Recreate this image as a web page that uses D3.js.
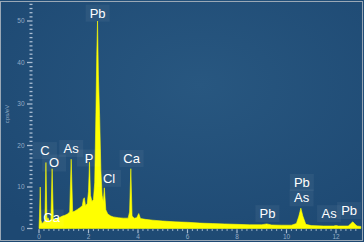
<!DOCTYPE html>
<html>
<head>
<meta charset="utf-8">
<script src="https://cdn.jsdelivr.net/npm/d3@7"></script>
<style>
    body { margin: 0; background: #1f4a75; }
    svg { display: block; }
</style>
</head>
<body>
<svg id="body_spec" width="364" height="242"></svg>
<script>
// spectrum (keV, cps/eV)
let energy = [0.00, 0.02, 0.05, 0.08, 0.12, 0.18, 0.24, 0.28, 0.32, 0.36, 0.42, 0.48, 0.53, 0.58,
    0.65, 0.75, 0.85, 0.95, 1.05, 1.15, 1.24, 1.30, 1.36, 1.45, 1.55, 1.65, 1.75, 1.79, 1.83, 1.88,
    1.95, 2.00, 2.04, 2.08, 2.14, 2.20, 2.25, 2.30, 2.335, 2.365, 2.40, 2.45, 2.50, 2.55, 2.60, 2.64,
    2.70, 2.78, 2.90, 3.00, 3.20, 3.40, 3.60, 3.66, 3.71, 3.76, 3.85, 3.95, 4.03, 4.10, 4.30, 4.60,
    5.00, 5.50, 6.00, 6.50, 7.00, 7.50, 8.00, 8.50, 9.00, 9.20, 9.40, 9.80, 10.20, 10.40, 10.50,
    10.58, 10.66, 10.78, 11.00, 11.50, 11.90, 12.00, 12.10, 12.50, 12.60, 12.68, 12.76, 12.85, 13.00];
let counts = [0, 3, 10, 2, 1.2, 1.5, 2, 15.9, 2, 2.6, 1.8, 2, 14.4, 2,
    2.2, 2.5, 2.7, 3, 3.2, 3.5, 4, 16.7, 4, 4.2, 4.6, 5, 5.5, 7, 7.4, 5.5,
    6, 9, 16, 8, 6.5, 7, 11, 28, 42, 50, 37, 27, 14, 8, 6.5, 9.8,
    4.5, 3.5, 3, 2.8, 2.6, 2.5, 2.5, 4, 14.4, 3, 2.5, 2.6, 3.6, 2.4, 2.2, 2.0,
    1.8, 1.6, 1.5, 1.3, 1.2, 1.1, 1.0, 0.9, 0.9, 1.1, 0.85, 0.8, 0.8, 1.2, 3,
    4.9, 3, 1, 0.7, 0.6, 0.6, 0.7, 0.6, 0.6, 1.2, 1.6, 1.1, 0.6, 0.5];

// element labels
let labelText = ["Pb", "C", "O", "As", "P", "Cl", "Ca", "Ca", "Pb", "Pb", "As", "As", "Pb"];
let labelE = [2.37, 0.24, 0.61, 1.30, 2.02, 2.83, 3.74, 0.51, 9.23, 10.62, 10.61, 11.72, 12.53];
let labelV = [50.8, 17.7, 14.7, 18.2, 15.9, 11.0, 15.8, 1.45, 2.5, 10.0, 6.3, 2.5, 3.25];

let xTicks = [0, 2, 4, 6, 8, 10, 12];
let yTicks = [0, 10, 20, 30, 40, 50];
let yTitle = "cps/eV";

let body_spec = d3.select("#body_spec");

let xScale = d3.scaleLinear().domain([0, 13]).range([39, 360.75]);
let yScale = d3.scaleLinear().domain([0, 54]).range([228.5, 4.4]);

drawFrame();
drawAxes();
drawSpectrum();
drawLabels();

function drawFrame(){
    let defs = body_spec.append("defs");
    let grad = defs.append("radialGradient")
        .attr("id", "bg_grad")
        .attr("cx", "55%").attr("cy", "35%").attr("r", "75%");
    grad.append("stop").attr("offset", "0%").attr("stop-color", "#285780");
    grad.append("stop").attr("offset", "100%").attr("stop-color", "#1d4872");

    body_spec.append("rect")
        .attr("x", 0).attr("y", 0)
        .attr("width", 364).attr("height", 242)
        .attr("fill", "url(#bg_grad)");
    body_spec.append("rect")
        .attr("x", 0.5).attr("y", 1.5)
        .attr("width", 362).attr("height", 239)
        .attr("fill", "none")
        .attr("stroke", "#9aa8b6")
        .attr("stroke-width", 1);
}

function drawAxes(){
    // y axis: dashes every unit, longer ones at the labels
    let yMinor = d3.range(0, 55, 1);
    body_spec.selectAll(".ytick")
        .data(yMinor)
        .enter().append("line")
        .attr("x1", d => yTicks.includes(d) ? 27 : 29.5)
        .attr("x2", 32.5)
        .attr("y1", d => yScale(d))
        .attr("y2", d => yScale(d))
        .attr("stroke", "#aabdd2")
        .attr("stroke-width", 1.3);

    body_spec.selectAll(".ylab")
        .data(yTicks)
        .enter().append("text")
        .attr("x", 24.5)
        .attr("y", d => yScale(d) + 2.2)
        .attr("text-anchor", "end")
        .attr("font-family", "Liberation Sans, Arial, sans-serif")
        .attr("font-size", 6.5)
        .attr("fill", "#93abc5")
        .text(d => d);

    body_spec.append("text")
        .attr("transform", "translate(9," + 114 + ") rotate(-90)")
        .attr("text-anchor", "middle")
        .attr("font-family", "Liberation Sans, Arial, sans-serif")
        .attr("font-size", 6)
        .attr("fill", "#93abc5")
        .text(yTitle);

    // x axis: ticks every 0.2 keV
    let xMinor = d3.range(0, 65).map(i => i * 0.2);
    body_spec.selectAll(".xtick")
        .data(xMinor)
        .enter().append("line")
        .attr("x1", d => xScale(d))
        .attr("x2", d => xScale(d))
        .attr("y1", 229.2)
        .attr("y2", (d, i) => i % 10 === 0 ? 233.3 : 230.8)
        .attr("stroke", "#aabdd2")
        .attr("stroke-width", 1.2);

    body_spec.selectAll(".xlab")
        .data(xTicks)
        .enter().append("text")
        .attr("x", d => xScale(d))
        .attr("y", 238.8)
        .attr("text-anchor", "middle")
        .attr("font-family", "Liberation Sans, Arial, sans-serif")
        .attr("font-size", 6.5)
        .attr("fill", "#93abc5")
        .text(d => d);
}

function drawSpectrum(){
    let data = energy.map((e, i) => ({e: e, v: counts[i]}));
    let area = d3.area()
        .x(d => xScale(d.e))
        .y0(yScale(0))
        .y1(d => yScale(d.v));
    body_spec.append("path")
        .datum(data)
        .attr("d", area)
        .attr("fill", "#ffff00")
        .attr("stroke", "#ffff00")
        .attr("stroke-width", 0.6);
}

function drawLabels(){
    let data = labelText.map((t, i) => ({t: t, e: labelE[i], v: labelV[i]}));
    let g = body_spec.selectAll(".lab")
        .data(data)
        .enter().append("g");

    g.append("rect")
        .attr("x", d => xScale(d.e) - 12)
        .attr("y", d => yScale(d.v) - 13)
        .attr("width", 24)
        .attr("height", 17)
        .attr("fill", "rgba(255,255,255,0.05)");

    g.append("text")
        .attr("x", d => xScale(d.e))
        .attr("y", d => yScale(d.v))
        .attr("text-anchor", "middle")
        .attr("font-family", "Liberation Sans, Arial, sans-serif")
        .attr("font-size", 13)
        .attr("fill", "#ffffff")
        .text(d => d.t);
}
</script>
</body>
</html>
